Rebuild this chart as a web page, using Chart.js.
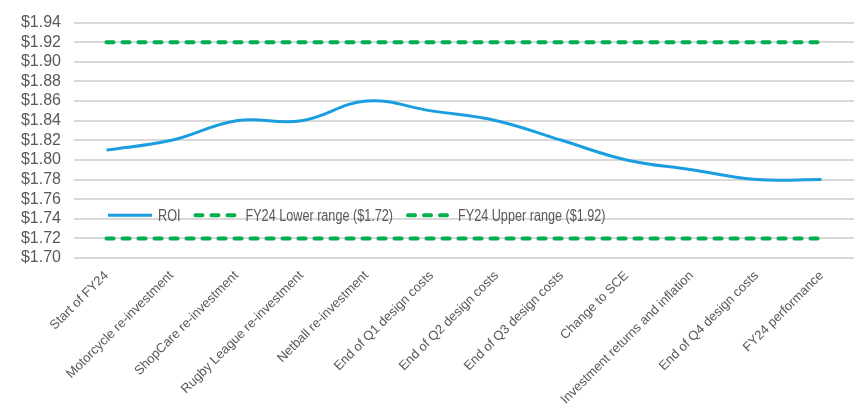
<!DOCTYPE html>
<html>
<head>
<meta charset="utf-8">
<script src="https://cdn.jsdelivr.net/npm/chart.js@4.4.1/dist/chart.umd.min.js"></script>
<style>
  html, body { margin: 0; padding: 0; background: #fff; }
  #wrap { width: 854px; height: 404px; }
</style>
</head>
<body>
<div id="wrap"><canvas id="roiChart"></canvas></div>
<script>
const categories = [
  'Start of FY24', 'Motorcycle re-investment', 'ShopCare re-investment', 'Rugby League re-investment',
  'Netball re-investment', 'End of Q1 design costs', 'End of Q2 design costs', 'End of Q3 design costs',
  'Change to SCE', 'Investment returns and inflation', 'End of Q4 design costs', 'FY24 performance'
];
const roi = [1.81, 1.82, 1.84, 1.84, 1.86, 1.85, 1.84, 1.82, 1.80, 1.79, 1.78, 1.78];
const lowerRange = [1.72, 1.72, 1.72, 1.72, 1.72, 1.72, 1.72, 1.72, 1.72, 1.72, 1.72, 1.72];
const upperRange = [1.92, 1.92, 1.92, 1.92, 1.92, 1.92, 1.92, 1.92, 1.92, 1.92, 1.92, 1.92];
const seriesNames = ['ROI', 'FY24 Lower range ($1.72)', 'FY24 Upper range ($1.92)'];

const blue = '#1a9ee0';
const green = '#00b050';
const textGrey = '#595959';

// legend sits inside the plot, drawn by hand
const insideLegend = {
  id: 'insideLegend',
  afterDatasetsDraw(chart) {
    const ctx = chart.ctx;
    const y = chart.scales.y.getPixelForValue(1.7435);
    let x = chart.chartArea.left + 32;
    ctx.save();
    ctx.font = '16px "Liberation Sans", Arial, sans-serif';
    ctx.textBaseline = 'middle';
    chart.data.datasets.forEach((ds) => {
      ctx.beginPath();
      ctx.strokeStyle = ds.borderColor;
      ctx.lineWidth = ds.borderWidth;
      ctx.lineCap = ds.borderCapStyle || 'butt';
      ctx.setLineDash(ds.borderDash || []);
      ctx.moveTo(x + 2, y);
      ctx.lineTo(x + 46, y);
      ctx.stroke();
      ctx.setLineDash([]);
      x += 52;
      const w = ctx.measureText(ds.label).width * 0.79;
      ctx.save();
      ctx.translate(x, y + 1);
      ctx.scale(0.79, 1);
      ctx.fillStyle = textGrey;
      ctx.fillText(ds.label, 0, 0);
      ctx.restore();
      x += w + 13;
    });
    ctx.restore();
  }
};

new Chart(document.getElementById('roiChart'), {
  type: 'line',
  plugins: [insideLegend],
  data: {
    labels: categories,
    datasets: [
      {
        label: seriesNames[0],
        data: roi,
        borderColor: blue,
        backgroundColor: blue,
        borderWidth: 3,
        tension: 0.4,
        pointRadius: 0
      },
      {
        label: seriesNames[1],
        data: lowerRange,
        borderColor: green,
        backgroundColor: green,
        borderWidth: 4,
        borderDash: [7, 9],
        borderCapStyle: 'round',
        pointRadius: 0
      },
      {
        label: seriesNames[2],
        data: upperRange,
        borderColor: green,
        backgroundColor: green,
        borderWidth: 4,
        borderDash: [7, 9],
        borderCapStyle: 'round',
        pointRadius: 0
      }
    ]
  },
  options: {
    responsive: true,
    maintainAspectRatio: false,
    animation: false,
    layout: { padding: { top: 11, left: 0, right: 0, bottom: 0 } },
    plugins: {
      legend: { display: false },
      tooltip: { enabled: false }
    },
    scales: {
      x: {
        offset: true,
        grid: { display: false },
        border: { display: false },
        ticks: {
          color: textGrey,
          font: { family: '"Liberation Sans", Arial, sans-serif', size: 13 },
          autoSkip: false,
          minRotation: 45,
          maxRotation: 45,
          padding: 2
        },
        afterFit: (scale) => { scale.height = 146; }
      },
      y: {
        min: 1.70,
        max: 1.94,
        grid: { color: '#d9d9d9', lineWidth: 2, drawTicks: false },
        border: { display: false },
        ticks: {
          stepSize: 0.02,
          autoSkip: false,
          color: textGrey,
          padding: 13,
          font: { family: '"Liberation Sans", Arial, sans-serif', size: 16 },
          callback: (v) => '$' + Number(v).toFixed(2)
        },
        afterFit: (scale) => { scale.width = 74; }
      }
    }
  }
});
</script>
</body>
</html>
